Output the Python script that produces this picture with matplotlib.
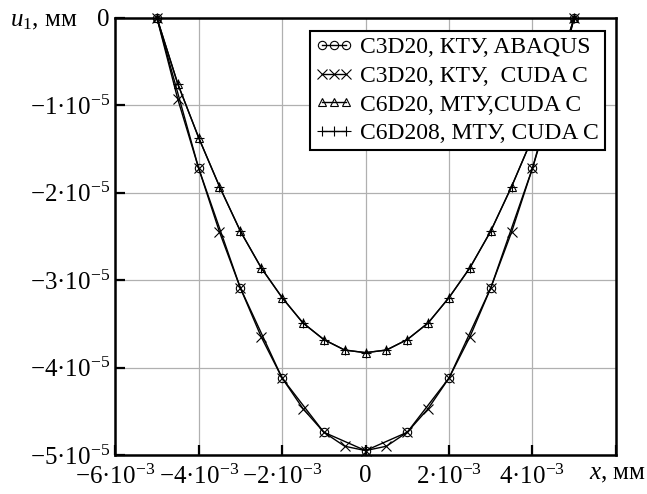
import numpy as np
import matplotlib
matplotlib.use('Agg')
import matplotlib.pyplot as plt

plt.rcParams['font.family'] = ['Liberation Serif', 'DejaVu Serif']
plt.rcParams['mathtext.fontset'] = 'custom'
plt.rcParams['mathtext.rm'] = 'Liberation Serif'
plt.rcParams['mathtext.it'] = 'Liberation Serif:italic'
plt.rcParams['mathtext.default'] = 'regular'

# x, mm (step 0.5e-3) and u1, mm
x_half = [-5e-3, -4.5e-3, -4e-3, -3.5e-3, -3e-3, -2.5e-3, -2e-3, -1.5e-3, -1e-3, -0.5e-3, 0.0,
          0.5e-3, 1e-3, 1.5e-3, 2e-3, 2.5e-3, 3e-3, 3.5e-3, 4e-3, 4.5e-3, 5e-3]
x_int = [-5e-3, -4e-3, -3e-3, -2e-3, -1e-3, 0.0, 1e-3, 2e-3, 3e-3, 4e-3, 5e-3]

u_abaqus = [0.0, -1.72e-5, -3.09e-5, -4.12e-5, -4.74e-5, -4.95e-5, -4.74e-5, -4.12e-5, -3.09e-5, -1.72e-5, 0.0]
u_c3d20 = [0.0, -0.93e-5, -1.72e-5, -2.45e-5, -3.09e-5, -3.65e-5, -4.12e-5, -4.47e-5, -4.74e-5, -4.90e-5, -4.95e-5,
           -4.90e-5, -4.74e-5, -4.47e-5, -4.12e-5, -3.65e-5, -3.09e-5, -2.45e-5, -1.72e-5, -0.93e-5, 0.0]
u_c6d20 = [0.0, -0.755e-5, -1.37e-5, -1.93e-5, -2.44e-5, -2.86e-5, -3.20e-5, -3.49e-5, -3.68e-5, -3.80e-5, -3.83e-5,
           -3.80e-5, -3.68e-5, -3.49e-5, -3.20e-5, -2.86e-5, -2.44e-5, -1.93e-5, -1.37e-5, -0.755e-5, 0.0]
u_c6d208 = [0.0, -0.755e-5, -1.37e-5, -1.93e-5, -2.44e-5, -2.86e-5, -3.20e-5, -3.49e-5, -3.68e-5, -3.80e-5, -3.83e-5,
            -3.80e-5, -3.68e-5, -3.49e-5, -3.20e-5, -2.86e-5, -2.44e-5, -1.93e-5, -1.37e-5, -0.755e-5, 0.0]

labels = ['C3D20, КТУ, ABAQUS', 'C3D20, КТУ,  CUDA C', 'C6D20, МТУ,CUDA C', 'C6D208, МТУ, CUDA C']

xticks = [-6e-3, -4e-3, -2e-3, 0.0, 2e-3, 4e-3, 6e-3]
xticklabels = ['−6·10$^{-3}$', '−4·10$^{-3}$', '−2·10$^{-3}$', '0',
               '2·10$^{-3}$', '4·10$^{-3}$', '']
yticks = [0.0, -1e-5, -2e-5, -3e-5, -4e-5, -5e-5]
yticklabels = ['0', '−1·10$^{-5}$', '−2·10$^{-5}$', '−3·10$^{-5}$',
               '−4·10$^{-5}$', '−5·10$^{-5}$']

fig = plt.figure(figsize=(6.47, 4.94), dpi=100)
ax = fig.add_axes([0.178, 0.079, 0.774, 0.885])

kw = dict(color='black', lw=1.0, mec='black', mfc='none', clip_on=False)
ax.plot(x_int, u_abaqus, marker='o', ms=6, mew=0.8, label=labels[0], **kw)
ax.plot(x_half, u_c3d20, marker='x', ms=7, mew=0.8, label=labels[1], **kw)
ax.plot(x_half, u_c6d20, marker='^', ms=6, mew=0.8, label=labels[2], **kw)
ax.plot(x_half, u_c6d208, marker='+', ms=7, mew=0.8, label=labels[3], **kw)

ax.set_xlim(-6e-3, 6e-3)
ax.set_ylim(-5e-5, 0)
ax.set_xticks(xticks)
ax.set_xticklabels(xticklabels)
ax.set_yticks(yticks)
ax.set_yticklabels(yticklabels)
ax.tick_params(direction='in', length=7, width=1.6, labelsize=18, top=False, right=False)
ax.tick_params(axis='x', pad=7)
ax.tick_params(axis='y', pad=4)
ax.grid(True, color='#b0b0b0', lw=0.9)
ax.set_axisbelow(True)
for s in ax.spines.values():
    s.set_linewidth(1.8)

leg = ax.legend(loc='upper right', bbox_to_anchor=(0.978, 0.970), fontsize=17, numpoints=3,
                handlelength=1.6, handletextpad=0.3, borderpad=0.25, labelspacing=0.3,
                borderaxespad=0, fancybox=False, framealpha=1, edgecolor='black')
leg.get_frame().set_linewidth(1.5)

fig.text(0.015, 0.958, '$\\mathit{u}_1$, мм', fontsize=18, ha='left', va='center')
fig.text(0.998, 0.040, '$\\mathit{x}$, мм', fontsize=18, ha='right', va='center')

fig.savefig('out.png', dpi=100)
